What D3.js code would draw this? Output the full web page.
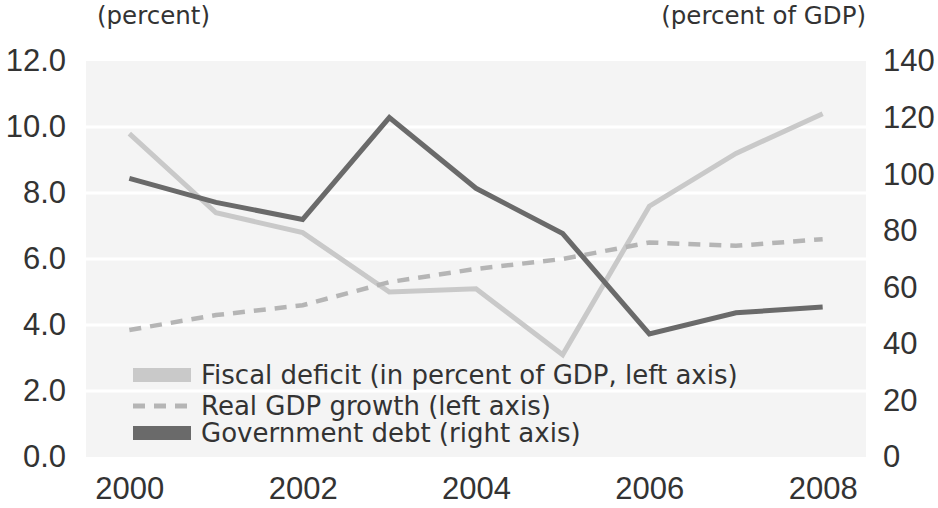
<!DOCTYPE html>
<html>
<head>
<meta charset="utf-8">
<script src="https://cdn.jsdelivr.net/npm/d3@7"></script>
<style>
  body { margin: 0; background: #fff; }
  svg text { font-family: "Liberation Sans", Arial, sans-serif; fill: #333; }
  svg text.label { font-family: "DejaVu Sans", sans-serif; }
</style>
</head>
<body>
<div id="chart"></div>
<script>
// data
const years = [2000, 2001, 2002, 2003, 2004, 2005, 2006, 2007, 2008];
const fiscalDeficit = [9.8, 7.4, 6.8, 5.0, 5.1, 3.1, 7.6, 9.2, 10.4];
const realGdpGrowth = [3.85, 4.3, 4.6, 5.3, 5.7, 6.0, 6.5, 6.4, 6.6];
const govDebt = [98.5, 90, 84, 120, 95, 79, 43.5, 51, 53];
const leftTicks = [0, 2, 4, 6, 8, 10, 12];
const rightTicks = [0, 20, 40, 60, 80, 100, 120, 140];
const xTicks = [2000, 2002, 2004, 2006, 2008];
const legendLabels = [
  "Fiscal deficit (in percent of GDP, left axis)",
  "Real GDP growth (left axis)",
  "Government debt (right axis)"
];

const width = 938, height = 508;
const margin = { top: 61, right: 72, bottom: 51, left: 86 };
const w = width - margin.left - margin.right;
const h = height - margin.top - margin.bottom;

const svg = d3.select("#chart").append("svg")
  .attr("width", width).attr("height", height);
const g = svg.append("g").attr("transform", `translate(${margin.left},${margin.top})`);

const x = d3.scaleLinear().domain([1999.5, 2008.5]).range([0, w]);
const yL = d3.scaleLinear().domain([0, 12]).range([h, 0]);
const yR = d3.scaleLinear().domain([0, 140]).range([h, 0]);

// plot background + grid
g.append("rect").attr("width", w).attr("height", h).attr("fill", "#f4f4f4");
g.selectAll(".grid").data(leftTicks.filter(d => d > 0 && d < 12)).enter()
  .append("line").attr("class", "grid")
  .attr("x1", 0).attr("x2", w)
  .attr("y1", d => yL(d)).attr("y2", d => yL(d))
  .attr("stroke", "#fff").attr("stroke-width", 3);

// axes
const fmt1 = d3.format(".1f");
const leftAxis = g.append("g").call(d3.axisLeft(yL).tickValues(leftTicks).tickFormat(fmt1).tickSize(0).tickPadding(20));
const rightAxis = g.append("g").attr("transform", `translate(${w},0)`)
  .call(d3.axisRight(yR).tickValues(rightTicks).tickSize(0).tickPadding(17));
const bottomAxis = g.append("g").attr("transform", `translate(0,${h})`)
  .call(d3.axisBottom(x).tickValues(xTicks).tickFormat(d3.format("d")).tickSize(0).tickPadding(20));
[leftAxis, rightAxis, bottomAxis].forEach(a => {
  a.select(".domain").remove();
  a.selectAll("text").style("font-size", "31px").attr("fill", "#333");
});

// axis unit labels
svg.append("text").attr("class", "label").attr("x", 97).attr("y", 24).style("font-size", "24.5px").text("(percent)");
svg.append("text").attr("class", "label").attr("x", 866).attr("y", 24).attr("text-anchor", "end").style("font-size", "24.5px").text("(percent of GDP)");

// lines
const lineL = d3.line().x((d, i) => x(years[i])).y(d => yL(d));
const lineR = d3.line().x((d, i) => x(years[i])).y(d => yR(d));

g.append("path").datum(fiscalDeficit).attr("d", lineL)
  .attr("fill", "none").attr("stroke", "#c9c9c9").attr("stroke-width", 5);
g.append("path").datum(realGdpGrowth).attr("d", lineL)
  .attr("fill", "none").attr("stroke", "#b5b5b5").attr("stroke-width", 4.5)
  .attr("stroke-dasharray", "12,9");
g.append("path").datum(govDebt).attr("d", lineR)
  .attr("fill", "none").attr("stroke", "#6a6a6a").attr("stroke-width", 5);

// legend
const legend = svg.append("g").attr("transform", "translate(133,375)");
const legendStyles = [
  { stroke: "#c9c9c9", dash: null, sw: 14 },
  { stroke: "#b5b5b5", dash: "12,9", sw: 5 },
  { stroke: "#6a6a6a", dash: null, sw: 14 }
];
const rowY = [0, 31, 58];
legendLabels.forEach((lab, i) => {
  legend.append("line")
    .attr("x1", 0).attr("x2", 58).attr("y1", rowY[i]).attr("y2", rowY[i])
    .attr("stroke", legendStyles[i].stroke).attr("stroke-width", legendStyles[i].sw)
    .attr("stroke-dasharray", legendStyles[i].dash);
  legend.append("text").attr("class", "label").attr("x", 68).attr("y", rowY[i] + 9)
    .style("font-size", "26px").text(lab);
});
</script>
</body>
</html>
